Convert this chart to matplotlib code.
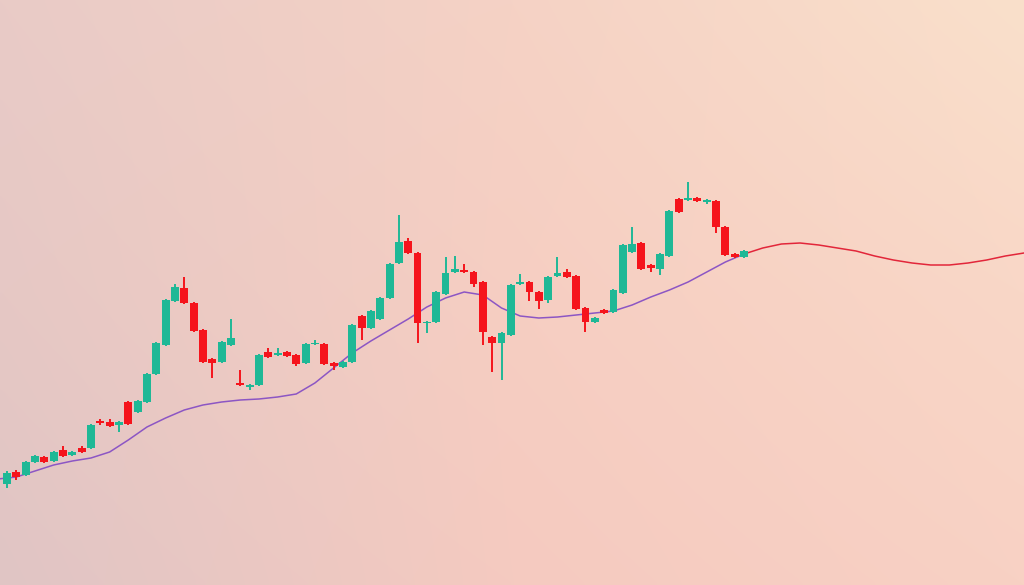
import matplotlib
matplotlib.use('Agg')
import matplotlib.pyplot as plt
import numpy as np

# OHLC candles, one per session (price units)
opens = [101, 113, 110, 123, 128, 124, 135, 130, 137, 137,
         164, 163, 160, 183, 173, 183, 211, 240, 284, 297,
         282, 255, 226, 223, 240, 202, 198, 200, 233, 230,
         233, 230, 222, 241, 241, 222, 218, 223, 269, 257,
         266, 287, 322, 344, 332, 262, 263, 291, 313, 315,
         313, 303, 248, 242, 250, 301, 303, 293, 285, 309,
         313, 309, 277, 263, 275, 273, 292, 333, 342, 320,
         316, 329, 386, 385, 387, 383, 384, 358, 331, 328]
closes = [112, 108, 123, 129, 123, 133, 129, 133, 133, 160,
          162, 159, 163, 161, 184, 211, 242, 285, 298, 282,
          254, 223, 222, 243, 247, 200, 200, 230, 228, 232,
          229, 221, 241, 242, 221, 219, 223, 260, 257, 274,
          287, 321, 343, 332, 262, 263, 293, 312, 316, 313,
          301, 253, 242, 252, 300, 303, 293, 284, 308, 312,
          308, 276, 263, 267, 272, 295, 340, 341, 316, 317,
          331, 374, 373, 387, 384, 385, 358, 330, 328, 334]
highs = [114, 115, 124, 130, 129, 134, 139, 134, 139, 161,
         166, 166, 164, 184, 185, 212, 243, 286, 301, 308,
         283, 256, 227, 244, 266, 215, 201, 231, 237, 237,
         234, 231, 242, 245, 242, 223, 224, 261, 270, 275,
         288, 322, 370, 347, 333, 264, 294, 328, 329, 321,
         314, 304, 249, 253, 301, 311, 304, 294, 309, 328,
         316, 310, 278, 268, 276, 296, 341, 358, 343, 321,
         332, 375, 387, 403, 388, 386, 385, 359, 332, 335]
lows = [97, 105, 109, 122, 122, 123, 128, 129, 132, 136,
        160, 158, 153, 160, 172, 182, 210, 239, 283, 281,
        253, 222, 207, 222, 239, 199, 195, 199, 227, 229,
        228, 219, 221, 240, 220, 215, 217, 222, 245, 256,
        265, 286, 321, 331, 242, 252, 262, 290, 312, 312,
        298, 240, 213, 205, 249, 300, 284, 276, 282, 308,
        307, 275, 253, 262, 271, 272, 291, 332, 315, 313,
        310, 328, 372, 384, 383, 381, 352, 329, 327, 327]

# moving average (session index, value), then its projection past the last candle
ma_t = [-1, 1, 3, 5, 7, 9, 11, 13, 15, 17, 19, 21, 23, 25, 27, 29, 31, 33,
        35, 37, 39, 41, 43, 45, 47, 49, 51, 53, 55, 57, 59, 61, 63, 65, 67,
        69, 71, 73, 75, 77, 79]
ma_v = [106, 108, 114, 120, 124, 127, 133, 145, 158, 167, 175, 180, 183,
        185, 186, 188, 191, 202, 217, 232, 244, 255, 266, 278, 287, 293,
        290, 277, 269, 267, 268, 270, 272, 274, 280, 288, 295, 303, 313,
        323, 331]
fc_t = [79, 81, 83, 85, 87, 89, 91, 93, 95, 97, 99, 101, 103, 105, 107, 109]
fc_v = [331, 337, 341, 342, 340, 337, 334, 329, 325, 322, 320, 320, 322,
        325, 329, 332]

UP = '#1fb896'
DOWN = '#f5141c'

fig = plt.figure(figsize=(10.24, 5.85), dpi=100)
ax = fig.add_axes([0, 0, 1, 1])
ax.set_xlim(-0.75, 109.0)
ax.set_ylim(0, 585)
ax.axis('off')

# soft background gradient
grid = np.array([
    [[233, 203, 199], [245, 210, 197], [250, 224, 203]],
    [[230, 200, 197], [246, 206, 194], [249, 215, 199]],
    [[224, 197, 197], [245, 202, 192], [248, 209, 196]],
], dtype=float) / 255
ny, nx = 120, 200
yy = np.linspace(0, 2, ny)
xx = np.linspace(0, 2, nx)
img = np.zeros((ny, nx, 3))
for ch in range(3):
    for i, y in enumerate(yy):
        r0 = int(min(y, 1.999))
        fy = y - r0
        row = grid[r0, :, ch] * (1 - fy) + grid[r0 + 1, :, ch] * fy
        img[i, :, ch] = np.interp(xx, [0, 1, 2], row)
ax.imshow(img, extent=(-0.75, 109.0, 0, 585), aspect='auto', origin='upper',
          zorder=0, interpolation='bicubic')

idx = np.arange(len(opens))
o = np.array(opens)
c = np.array(closes)
cols = [UP if cc >= oo else DOWN for oo, cc in zip(o, c)]

ax.plot(ma_t, ma_v, color='#8c56c4', lw=1.1, zorder=2, solid_joinstyle='round')
ax.plot(fc_t, fc_v, color='#e2263a', lw=1.1, zorder=2, solid_joinstyle='round')

ax.vlines(idx, lows, highs, colors=cols, lw=1.4, zorder=3)
ax.bar(idx, np.abs(c - o), bottom=np.minimum(o, c), width=0.85,
       color=cols, zorder=4, linewidth=0)

fig.savefig('out.png', dpi=100)
